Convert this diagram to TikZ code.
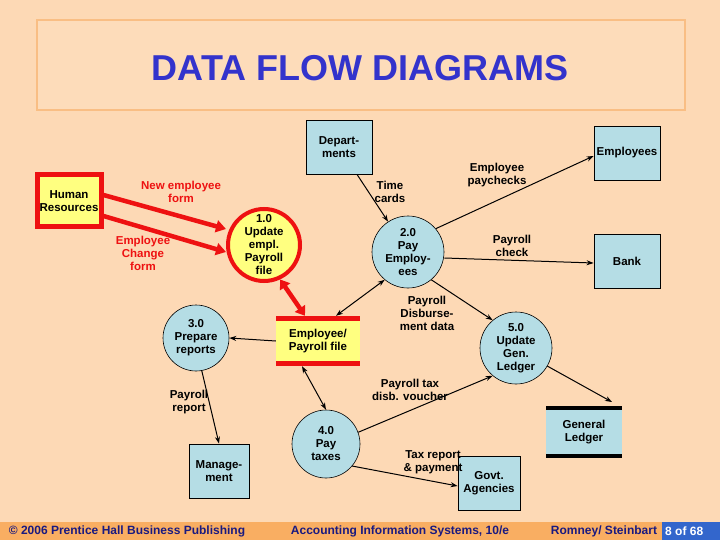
\documentclass[tikz,border=0pt]{standalone}
\usepackage{fontspec}
\setmainfont{Liberation Sans}
\usetikzlibrary{arrows.meta}
\definecolor{bg}{HTML}{FDD9B5}
\definecolor{titlebg}{HTML}{FDDCBA}
\definecolor{titlebd}{HTML}{F9BE84}
\definecolor{lb}{HTML}{B5DDE5}
\definecolor{yl}{HTML}{FFFF80}
\definecolor{rd}{HTML}{EE1111}
\definecolor{foot}{HTML}{F9AE62}
\definecolor{ttl}{HTML}{3333CC}
\definecolor{ftx}{HTML}{1A1A80}
\definecolor{pg}{HTML}{3366CC}
\begin{document}
\begin{tikzpicture}[x=1pt,y=-1pt,
  txt/.style={font=\fontsize{11.5}{13}\bfseries,align=center,inner sep=0pt},
  ent/.style={txt,draw=black,fill=lb,line width=0.8pt},
  proc/.style={txt,draw=black,fill=lb,circle,line width=0.6pt},
  flow/.style={-{Stealth[length=7pt,width=5pt]},line width=1pt},
  bflow/.style={{Stealth[length=7pt,width=5pt]}-{Stealth[length=7pt,width=5pt]},line width=1pt},
  rflow/.style={-{Triangle[length=10pt,width=12pt]},line width=4.5pt,draw=rd},
  lab/.style={txt},
  rlab/.style={txt,text=rd},
  foottxt/.style={txt,text=ftx,font=\fontsize{12}{13}\bfseries}]
\fill[bg] (0,0) rectangle (720,540);
\useasboundingbox (0,0) rectangle (720,540);
\draw[titlebd,fill=titlebg,line width=2pt] (37,20) rectangle (685,110);
\node[text=ttl,font=\fontsize{36}{38}\bfseries,inner sep=0pt] (title) at (360,68) {DATA FLOW DIAGRAMS};
% footer
\fill[foot] (0,522) rectangle (720,540);
\fill[pg] (662,522) rectangle (720,540);
\node[foottxt] (f1) at (127,531) {© 2006 Prentice Hall Business Publishing};
\node[foottxt] (f2) at (400,531) {Accounting Information Systems, 10/e};
\node[foottxt] (f3) at (604,531) {Romney/ Steinbart};
\node[foottxt,text=white,anchor=west] (f4) at (665,531) {8 of 68};
% entities
\node[ent,minimum width=66pt,minimum height=54pt] (dep) at (339,147) {Depart-\\ments};
\node[ent,minimum width=66pt,minimum height=54pt] (emp) at (627,153) {Employees};
\node[ent,minimum width=66pt,minimum height=54pt] (bank) at (627,261) {Bank};
\node[ent,minimum width=60pt,minimum height=54pt] (mgmt) at (219,471) {Manage-\\ment};
\node[ent,minimum width=62pt,minimum height=54pt] (govt) at (489,483) {Govt.\\Agencies};
\node[txt,draw=rd,fill=yl,line width=5pt,minimum width=64pt,minimum height=52pt] (hr) at (69,201) {Human\\Resources};
% stores
\node[txt,fill=yl,minimum width=84pt,minimum height=50pt] (file) at (318,341) {Employee/\\Payroll file};
\fill[rd] (276,316) rectangle (360,321);
\fill[rd] (276,361) rectangle (360,366);
\node[txt,fill=lb,minimum width=76pt,minimum height=48pt] (gl) at (584,432) {General\\Ledger};
\fill[black] (546,406) rectangle (622,410);
\fill[black] (546,454) rectangle (622,458);
% processes
\node[txt,circle,draw=rd,fill=yl,line width=4pt,minimum size=72pt] (p1) at (264,245) {1.0\\Update\\empl.\\Payroll\\file};
\node[proc,minimum size=72pt] (p2) at (408,252) {2.0\\Pay\\Employ-\\ees};
\node[proc,minimum size=66pt] (p3) at (196,338) {3.0\\Prepare\\reports};
\node[proc,minimum size=68pt] (p4) at (326,444) {4.0\\Pay\\taxes};
\node[proc,minimum size=72pt] (p5) at (516,348) {5.0\\Update\\Gen.\\Ledger};
% red flows
\draw[rflow] (hr.east |- 0,195) -- (p1.west |- 0,229);
\draw[rflow] (hr.east |- 0,216) -- (p1.west |- 0,252);
\draw[line width=4.5pt,draw=rd,{Triangle[length=9pt,width=12pt]}-{Triangle[length=9pt,width=12pt]}] (p1.-65) -- (file.north west -| 305,0);
% black flows
\draw[flow] (dep) -- (p2);
\draw[flow] (p2.40) -- (emp.west |- 0,156);
\draw[flow] (p2.east |- 0,258) -- (bank.west |- 0,263);
\draw[bflow] (p2.-130) -- (file.north -| 336,0);
\draw[flow] (p2.-50) -- (p5.130);
\draw[flow] (file.west) -- (p3.east);
\draw[bflow] (file.south -| 302,0) -- (p4.north);
\draw[flow] (p4.20) -- (p5.-130);
\draw[flow] (p4.-40) -- (govt.west |- 0,486);
\draw[flow] (p5.-30) -- (612,402) coordinate (glin);
\draw[flow] (p3.-80) -- (mgmt.north);
% labels
\node[rlab] (l1) at (181,192) {New employee\\form};
\node[rlab] (l2) at (143,253) {Employee\\Change\\form};
\node[lab] (l3) at (390,192) {Time\\cards};
\node[lab] (l4) at (497,175) {Employee\\paychecks};
\node[lab] (l5) at (512,246) {Payroll\\check};
\node[lab] (l6) at (427,313) {Payroll\\Disburse-\\ment data};
\node[lab] (l7) at (410,390) {Payroll tax\\disb. voucher};
\node[lab] (l8) at (189,402) {Payroll\\report};
\node[lab] (l9) at (433,462) {Tax report\\\& payment};
\end{tikzpicture}
\end{document}
